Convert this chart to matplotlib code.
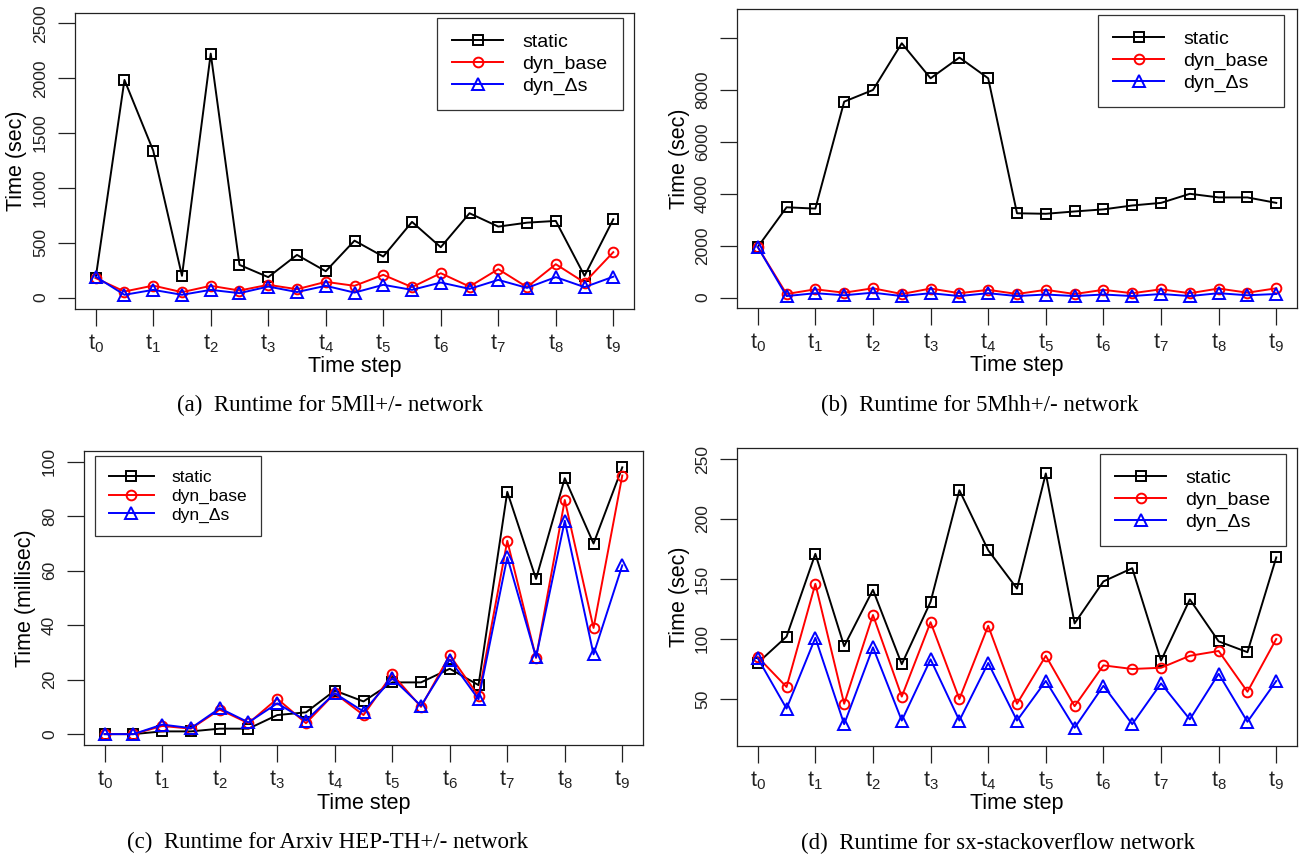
import numpy as np
import matplotlib
matplotlib.use("Agg")
import matplotlib.pyplot as plt

plt.rcParams['font.family'] = ['Liberation Sans', 'DejaVu Sans']

# x positions: half time steps t0, t0.5, ..., t9
steps = np.arange(19) * 0.5
step_ticks = np.arange(10)
step_labels = [r'$\mathregular{t_%d}$' % i for i in range(10)]
series_names = ['static', 'dyn_base', 'dyn_\u0394s']

# (a) 5Mll+/- network, seconds
a_static = [180, 1985, 1340, 198, 2225, 298, 186, 389, 240, 519, 374, 690, 459, 769, 647, 683, 699, 198, 714]
a_base = [177, 55, 109, 49, 107, 64, 116, 76, 143, 107, 207, 95, 222, 100, 259, 95, 304, 137, 414]
a_ds = [190, 25, 70, 25, 70, 40, 100, 50, 107, 45, 116, 70, 137, 79, 161, 88, 186, 95, 190]

# (b) 5Mhh+/- network, seconds
b_static = [1950, 3480, 3430, 7550, 8000, 9800, 8450, 9250, 8450, 3250, 3230, 3320, 3400, 3550, 3650, 4000, 3860, 3860, 3650]
b_base = [1950, 140, 320, 190, 360, 140, 350, 170, 300, 140, 300, 140, 300, 170, 320, 170, 350, 190, 360]
b_ds = [1950, 60, 170, 90, 190, 60, 170, 60, 170, 60, 120, 60, 120, 60, 140, 60, 170, 90, 140]

# (c) Arxiv HEP-TH+/- network, milliseconds
c_static = [0, 0, 1, 1, 2, 2, 7, 8, 16, 12, 19, 19, 24, 18, 89, 57, 94, 70, 98]
c_base = [0, 0, 3, 2, 9, 4, 13, 4, 15, 7, 22, 10, 29, 14, 71, 28, 86, 39, 95]
c_ds = [0, 0, 3.5, 2.2, 9.5, 4.3, 11.3, 5, 15, 8.3, 20.5, 10.4, 27.4, 12.8, 65, 28.2, 78.4, 29.3, 62]

# (d) sx-stackoverflow network, seconds
d_static = [80, 102, 171, 94, 141, 79, 131, 224, 174, 142, 238, 113, 148, 159, 82, 133, 98, 89, 168]
d_base = [85, 60, 146, 46, 120, 52, 114, 50, 111, 46, 86, 44, 78, 75, 76, 86, 90, 56, 100]
d_ds = [84, 42, 101, 29, 93, 32, 83, 32, 80, 32, 65, 26, 61, 29, 63, 33, 71, 31, 65]

W, H = 1302, 858
fig = plt.figure(figsize=(W / 100, H / 100), dpi=100)


def px_box(l, t, r, b):
    return [l / W, 1 - b / H, (r - l) / W, (b - t) / H]


def panel(box, data, ylim, yticks, ylabels, ylab, caption, leg_box, leg_loc, leg_fs):
    l, t, r, b = box
    ax = fig.add_axes(px_box(l, t, r, b))
    styles = [('black', 's', 7), ('red', 'o', 7), ('blue', '^', 8)]
    for vals, name, (col, mk, ms) in zip(data, series_names, styles):
        ax.plot(steps, vals, color=col, lw=1.4, marker=mk, ms=ms, mfc='none',
                mec=col, mew=1.4, label=name)
    ax.set_xlim(-0.36, 9.36)
    ax.set_ylim(*ylim)
    ax.set_xticks(step_ticks)
    ax.set_xticklabels(step_labels, fontsize=15.5)
    ax.set_yticks(yticks)
    ax.set_yticklabels(ylabels, fontsize=12.5, rotation=90, va='center')
    ax.tick_params(direction='out', length=12, width=0.9, colors='#222222')
    ax.tick_params(axis='x', pad=5)
    ax.tick_params(axis='y', pad=7.5)
    for s in ax.spines.values():
        s.set_linewidth(0.9)
        s.set_color('#222222')
    # axis labels and caption
    cx = (l + r) / 2
    fig.text(cx / W, 1 - (b + 58) / H, 'Time step', ha='center', va='center', fontsize=15.5)
    fig.text((l - 58) / W, 1 - (t + b) / 2 / H, ylab, ha='center', va='center',
             rotation=90, fontsize=15.5)
    fig.text(caption[1] / W, 1 - (b + 97) / H, caption[0], ha='center', va='center',
             fontsize=16.5, family='Liberation Serif')
    lx, ly = leg_box
    ax.legend(loc=leg_loc, bbox_to_anchor=(lx / W, 1 - ly / H),
              bbox_transform=fig.transFigure, borderaxespad=0, fontsize=leg_fs,
              numpoints=1, handlelength=2.6, handletextpad=1.0, labelspacing=0.2,
              fancybox=False, edgecolor='#333333', framealpha=1,
              borderpad=0.8)
    ax.get_legend().get_frame().set_linewidth(0.9)
    return ax


panel((75, 12.5, 634, 308.5), (a_static, a_base, a_ds), (-100, 2600),
      [0, 500, 1000, 1500, 2000, 2500], ['0', '500', '1000', '1500', '2000', '2500'],
      'Time (sec)', ('(a)  Runtime for 5Mll+/- network', 330),
      (623, 18), 'upper right', 14)

panel((737, 9, 1297, 308), (b_static, b_base, b_ds), (-400, 11120),
      [0, 2000, 4000, 6000, 8000, 10000], ['0', '2000', '4000', '6000', '8000', ''],
      'Time (sec)', ('(b)  Runtime for 5Mhh+/- network', 980),
      (1284, 15), 'upper right', 14)

panel((84, 451, 643, 745), (c_static, c_base, c_ds), (-4, 104),
      [0, 20, 40, 60, 80, 100], ['0', '20', '40', '60', '80', '100'],
      'Time (millisec)', ('(c)  Runtime for Arxiv HEP-TH+/- network', 328),
      (95, 456), 'upper left', 12.5)

panel((737, 448, 1297, 746), (d_static, d_base, d_ds), (10.8, 259.2),
      [50, 100, 150, 200, 250], ['50', '100', '150', '200', '250'],
      'Time (sec)', ('(d)  Runtime for sx-stackoverflow network', 998),
      (1286, 454), 'upper right', 14)

fig.savefig('out.png', dpi=100)
